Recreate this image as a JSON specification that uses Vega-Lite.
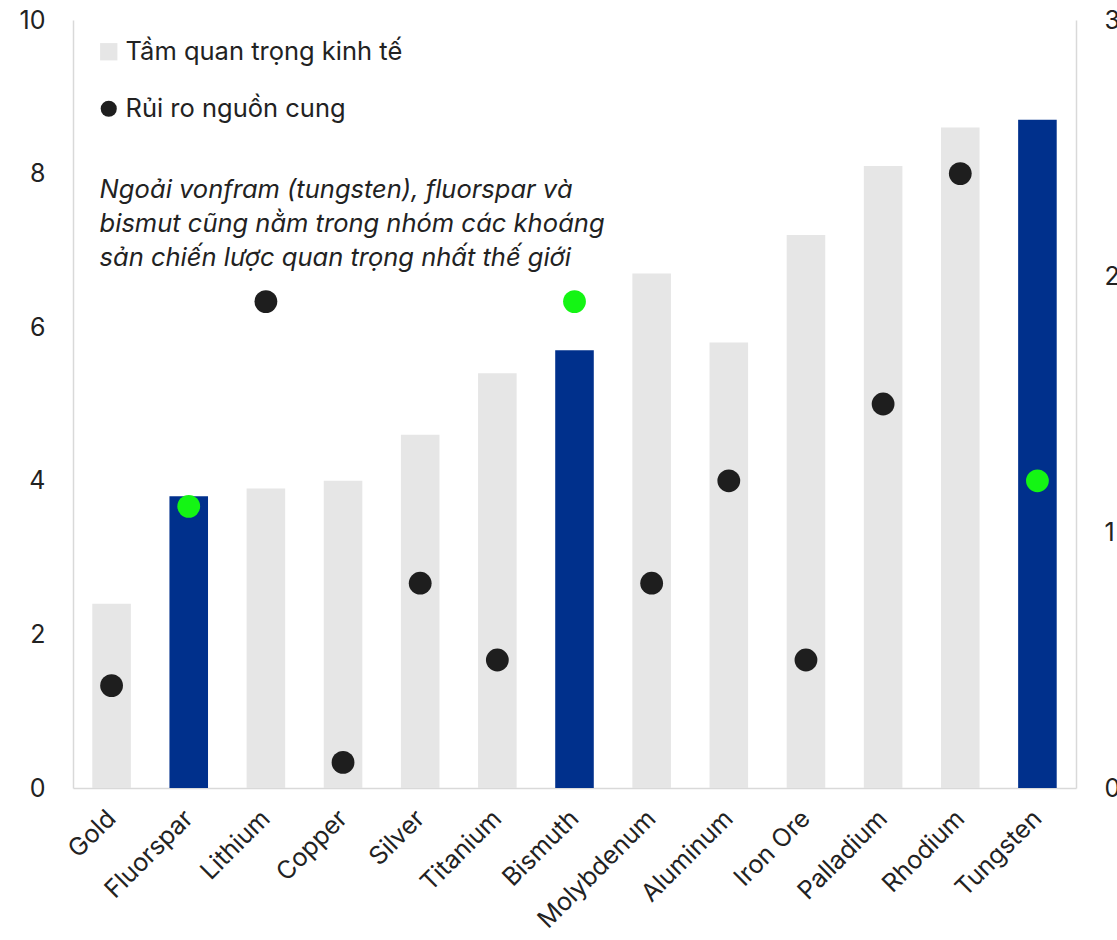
{
  "$schema": "https://vega.github.io/schema/vega-lite/v6.json",
  "width": 1003,
  "height": 768,
  "autosize": {"type": "none"},
  "padding": {"left": 73, "top": 20, "right": 41, "bottom": 152},
  "background": "white",
  "config": {
    "font": "Inter",
    "view": {"stroke": null},
    "axis": {"labelFont": "Inter", "labelFontSize": 25, "labelColor": "#222222", "grid": false, "ticks": false, "domainColor": "#d9d9d9", "domainWidth": 1.5, "title": null},
    "legend": {"labelFont": "Inter", "labelFontSize": 25.5, "labelColor": "#222222", "title": null, "padding": 0, "labelLimit": 0}
  },
  "data": {"values": [
    {"mineral": "Gold", "importance": 2.4, "risk": 0.4, "hl": false},
    {"mineral": "Fluorspar", "importance": 3.8, "risk": 1.1, "hl": true},
    {"mineral": "Lithium", "importance": 3.9, "risk": 1.9, "hl": false},
    {"mineral": "Copper", "importance": 4.0, "risk": 0.1, "hl": false},
    {"mineral": "Silver", "importance": 4.6, "risk": 0.8, "hl": false},
    {"mineral": "Titanium", "importance": 5.4, "risk": 0.5, "hl": false},
    {"mineral": "Bismuth", "importance": 5.7, "risk": 1.9, "hl": true},
    {"mineral": "Molybdenum", "importance": 6.7, "risk": 0.8, "hl": false},
    {"mineral": "Aluminum", "importance": 5.8, "risk": 1.2, "hl": false},
    {"mineral": "Iron Ore", "importance": 7.2, "risk": 0.5, "hl": false},
    {"mineral": "Palladium", "importance": 8.1, "risk": 1.5, "hl": false},
    {"mineral": "Rhodium", "importance": 8.6, "risk": 2.4, "hl": false},
    {"mineral": "Tungsten", "importance": 8.7, "risk": 1.2, "hl": true}
  ]},
  "encoding": {
    "x": {"field": "mineral", "type": "nominal", "sort": null,
      "scale": {"paddingInner": 0.5, "paddingOuter": 0.25},
      "axis": {"labelAngle": -45, "labelPadding": 26, "labelAlign": "right", "labelBaseline": "middle"}}
  },
  "layer": [
    {
      "mark": {"type": "bar"},
      "encoding": {
        "y": {"field": "importance", "type": "quantitative",
          "scale": {"domain": [0, 10]},
          "axis": {"values": [0, 2, 4, 6, 8, 10], "labelPadding": 28, "orient": "left"}},
        "color": {
          "condition": {"test": "datum.hl", "value": "#00308C"},
          "datum": "Tầm quan trọng kinh tế",
          "type": "nominal",
          "scale": {"domain": ["Tầm quan trọng kinh tế"], "range": ["#e6e6e6"]},
          "legend": {"orient": "none", "legendX": 23, "legendY": 19, "symbolType": "square", "symbolSize": 300, "symbolStrokeWidth": 0, "labelOffset": 4}
        }
      }
    },
    {
      "mark": {"type": "point", "filled": true, "shape": "circle", "size": 520, "opacity": 1},
      "encoding": {
        "y": {"field": "risk", "type": "quantitative",
          "scale": {"domain": [0, 3]},
          "axis": {"values": [0, 1, 2, 3], "labelPadding": 28, "orient": "right", "labelAlign": "left"}},
        "fill": {
          "condition": {"test": "datum.hl", "value": "#14F514"},
          "datum": "Rủi ro nguồn cung",
          "type": "nominal",
          "scale": {"domain": ["Rủi ro nguồn cung"], "range": ["#1e1e1e"]},
          "legend": {"orient": "none", "legendX": 23, "legendY": 76, "symbolType": "circle", "symbolSize": 260, "symbolStrokeWidth": 0, "labelOffset": 4}
        }
      }
    },
    {
      "data": {"values": [
        {"mineral": "Gold", "y": 7.68, "note": ["Ngoải vonfram (tungsten), fluorspar và", "bismut cũng nằm trong nhóm các khoáng", "sản chiến lược quan trọng nhất thế giới"]}
      ]},
      "mark": {"type": "text", "align": "left", "baseline": "alphabetic", "fontStyle": "italic", "fontSize": 25.5, "lineHeight": 34, "color": "#222222", "dx": -12},
      "encoding": {
        "y": {"field": "y", "type": "quantitative", "scale": {"domain": [0, 10]}, "axis": null},
        "text": {"field": "note"}
      }
    }
  ],
  "resolve": {"scale": {"y": "independent", "color": "independent", "fill": "independent"}}
}
